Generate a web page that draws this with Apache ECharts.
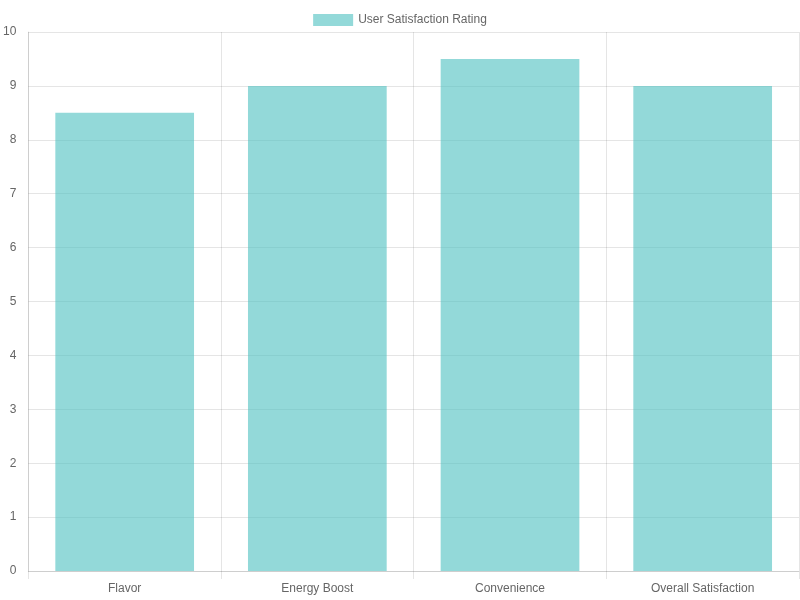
<!DOCTYPE html>
<html>
<head>
<meta charset="utf-8">
<script src="https://cdn.jsdelivr.net/npm/echarts@6/dist/echarts.min.js"></script>
<style>html,body{margin:0;padding:0;background:#fff}#chart{width:800px;height:600px}</style>
</head>
<body>
<div id="chart"></div>
<script>
const categories = ['Flavor', 'Energy Boost', 'Convenience', 'Overall Satisfaction'];
const ratings = [8.5, 9, 9.5, 9];
const seriesName = 'User Satisfaction Rating';

const myChart = echarts.init(document.getElementById('chart'));
const gridColor = 'rgba(0,0,0,0.1)';
const textStyle = { fontFamily: 'Liberation Sans, Arial, sans-serif', fontSize: 12, color: '#666' };

const option = {
    animation: false,
    textStyle: textStyle,
    legend: {
        top: 9,
        itemWidth: 40,
        itemHeight: 12,
        itemGap: 10,
        textStyle: textStyle,
        data: [{ name: seriesName, icon: 'rect' }]
    },
    grid: { left: 28, right: 1, top: 32, bottom: 29, containLabel: false },
    xAxis: {
        type: 'category',
        data: categories,
        axisLine: { lineStyle: { color: gridColor } },
        axisTick: { show: true, length: 8, lineStyle: { color: gridColor } },
        splitLine: { show: true, lineStyle: { color: gridColor } },
        axisLabel: { color: '#666', fontSize: 12, margin: 12 }
    },
    yAxis: {
        type: 'value',
        min: 0,
        max: 10,
        interval: 1,
        axisLine: { show: true, lineStyle: { color: gridColor } },
        axisTick: { show: false },
        splitLine: { show: true, lineStyle: { color: gridColor } },
        axisLabel: { color: '#666', fontSize: 12, margin: 12 }
    },
    series: [{
        name: seriesName,
        type: 'bar',
        data: ratings,
        barWidth: '72%',
        itemStyle: { color: 'rgba(75,192,192,0.6)' }
    }]
};

option && myChart.setOption(option);
</script>
</body>
</html>
